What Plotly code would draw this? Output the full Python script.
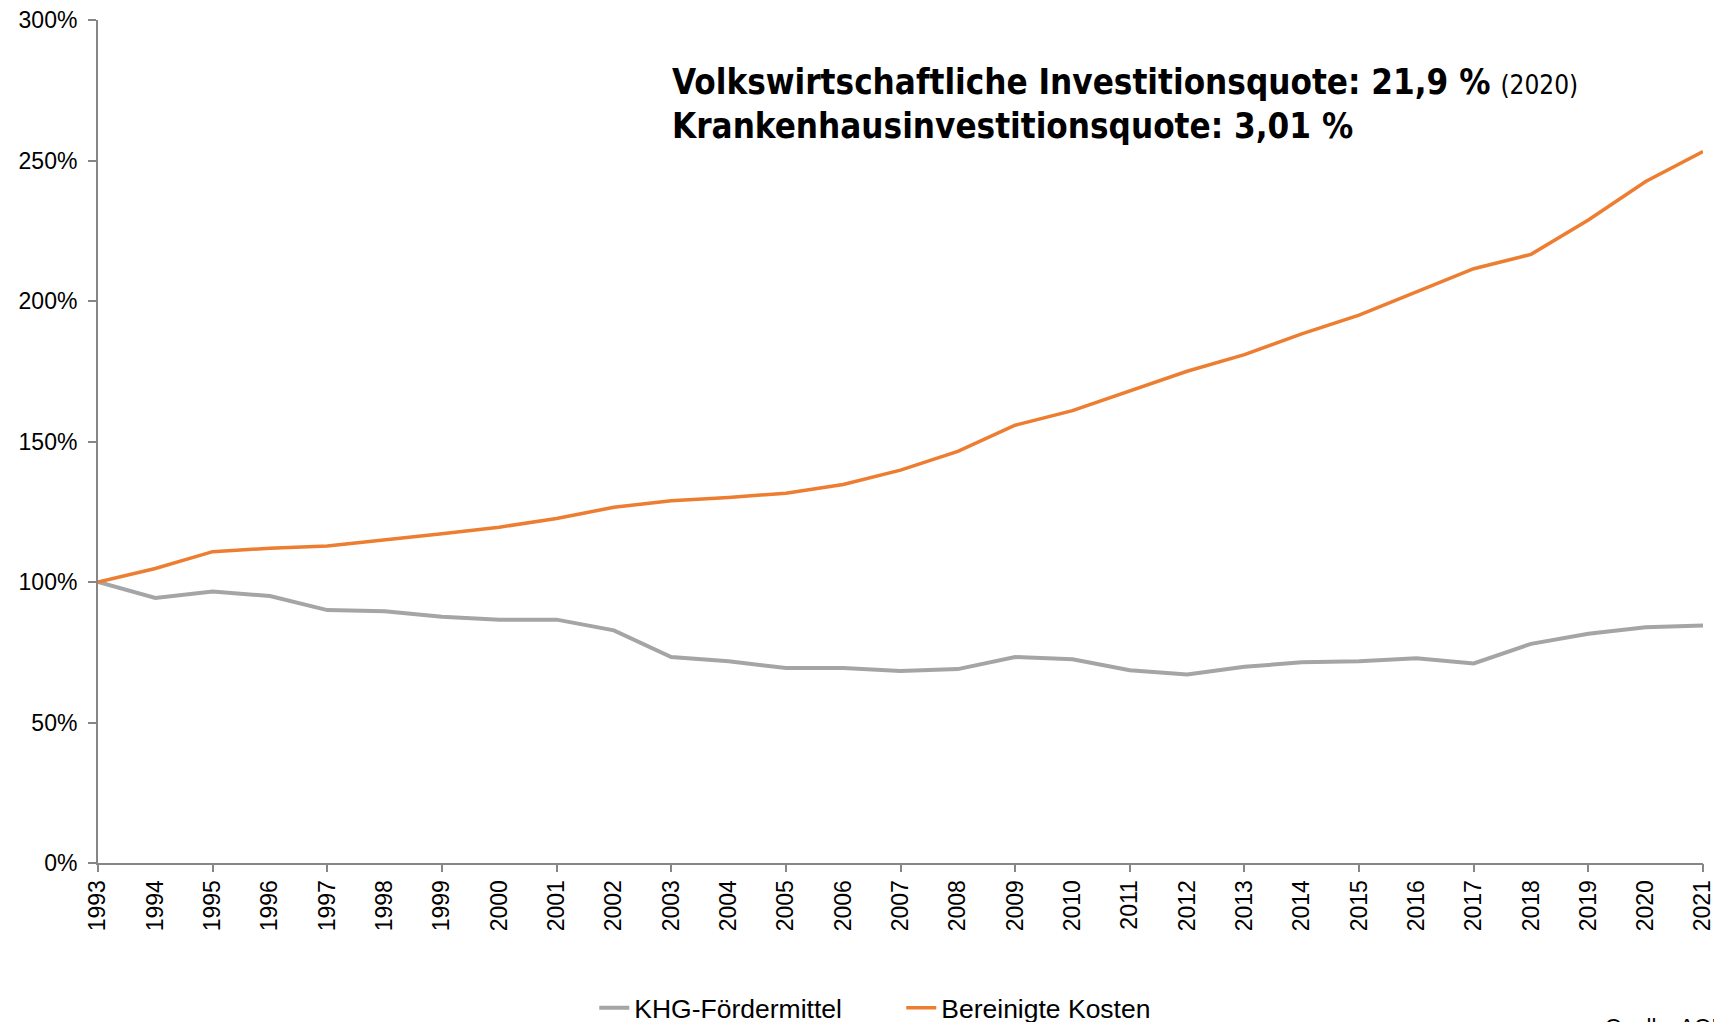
import plotly.graph_objects as go

years = list(range(1993, 2022))
khg = [100, 94.3, 96.6, 95.0, 90.0, 89.6, 87.6, 86.6, 86.6, 82.8, 73.3, 71.8, 69.4, 69.4, 68.3, 69.0,
       73.3, 72.5, 68.6, 67.1, 69.8, 71.4, 71.8, 72.9, 71.0, 78.0, 81.6, 83.9, 84.5]
kosten = [100, 104.8, 110.8, 112.0, 112.8, 114.9, 117.2, 119.5, 122.6, 126.6, 128.9, 130.1, 131.6, 134.7,
          139.8, 146.5, 155.8, 161.0, 168.0, 175.0, 180.9, 188.3, 195.0, 203.3, 211.5, 216.6, 228.8, 242.5, 253.2]
series_names = ["KHG-Fördermittel", "Bereinigte Kosten"]
y_ticks = [0, 50, 100, 150, 200, 250, 300]

AXIS = "#868686"
FONT = "Liberation Sans, Arial, sans-serif"
NARROW = "Liberation Sans Narrow, Arial Narrow, DejaVu Sans Condensed, sans-serif"

fig = go.Figure()
fig.add_trace(go.Scatter(x=years, y=khg, name=series_names[0], mode="lines",
                         line=dict(color="#A5A5A5", width=4)))
fig.add_trace(go.Scatter(x=years, y=kosten, name=series_names[1], mode="lines",
                         line=dict(color="#ED7D31", width=3.5)))
# helper trace on overlay axis that carries the tick marks every two years
fig.add_trace(go.Scatter(x=years, y=kosten, xaxis="x2", mode="lines", showlegend=False,
                         hoverinfo="skip", line=dict(color="rgba(0,0,0,0)", width=0)))

fig.update_layout(
    width=1714, height=1014,
    margin=dict(l=90, r=19, t=12, b=159, autoexpand=False),
    paper_bgcolor="white", plot_bgcolor="white",
    font=dict(family=FONT, color="black"),
    xaxis=dict(range=[1993, 2021], tickmode="linear", tick0=1993, dtick=1, tickangle=-90,
               showgrid=False, zeroline=False, showline=True, linecolor=AXIS, linewidth=2,
               ticks="", tickfont=dict(size=23, family=FONT), ticklabelstandoff=6,
               ticklabeloverflow="allow", automargin=False),
    xaxis2=dict(range=[1993, 2021], overlaying="x", anchor="y", side="bottom",
                tickmode="linear", tick0=1993, dtick=2, ticks="outside", ticklen=8,
                tickcolor=AXIS, tickwidth=2, showticklabels=False, showgrid=False,
                zeroline=False, showline=False, automargin=False),
    yaxis=dict(range=[0, 300], tickmode="array", tickvals=y_ticks,
               ticktext=[f"{v}%" for v in y_ticks], showgrid=False, zeroline=False,
               showline=True, linecolor=AXIS, linewidth=2, ticks="outside", ticklen=8,
               tickcolor=AXIS, tickwidth=2, tickfont=dict(size=23, family=FONT),
               ticklabelstandoff=6, ticklabeloverflow="allow", automargin=False),
    legend=dict(orientation="h", x=0.3092, xanchor="left", y=-0.172, yanchor="middle",
                font=dict(size=26.5, family=FONT), itemwidth=30, tracegroupgap=0,
                entrywidth=262, entrywidthmode="pixels"),
    showlegend=True,
)

fig.add_annotation(xref="paper", yref="paper", x=0.3564, y=0.9265, xanchor="left", yanchor="middle",
                   text="<b>Volkswirtschaftliche Investitionsquote: 21,9 %</b> <span style='font-size:26px'>(2020)</span>",
                   showarrow=False, font=dict(size=34.7, family=NARROW, color="black"))
fig.add_annotation(xref="paper", yref="paper", x=0.3564, y=0.874, xanchor="left", yanchor="middle",
                   text="<b>Krankenhausinvestitionsquote: 3,01 %</b>",
                   showarrow=False, font=dict(size=34.7, family=NARROW, color="black"))
fig.add_annotation(xref="paper", yref="paper", x=0.9377, y=-0.1767,
                   xanchor="left", yanchor="top", text="Quelle: AOLG",
                   showarrow=False, font=dict(size=22, family=FONT, color="black"))

fig.write_html("out.html")
